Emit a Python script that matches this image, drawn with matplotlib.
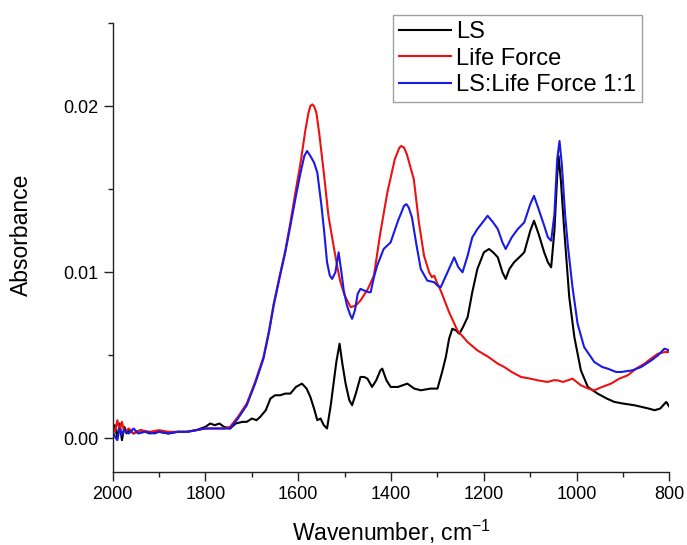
import matplotlib
matplotlib.use("Agg")
import matplotlib.pyplot as plt
from matplotlib.ticker import MultipleLocator, FormatStrFormatter

plt.rcParams['font.family'] = ['Liberation Sans', 'DejaVu Sans']
plt.rcParams['mathtext.fontset'] = 'custom'
plt.rcParams['mathtext.rm'] = 'Liberation Sans'
plt.rcParams['mathtext.it'] = 'Liberation Sans:italic'

# LS
ls_wn = [2000, 1995, 1990, 1985, 1980, 1975, 1970, 1965, 1955, 1940, 1920, 1900, 1880, 1860,
         1840, 1820, 1800, 1790, 1780, 1770, 1760, 1747, 1735, 1720, 1711, 1700, 1690, 1682,
         1670, 1660, 1650, 1639, 1628, 1617, 1605, 1592, 1582, 1574, 1566, 1559, 1552, 1545,
         1538, 1530, 1524, 1518, 1511, 1505, 1498, 1490, 1484, 1476, 1466, 1458, 1451, 1441,
         1432, 1423, 1419, 1410, 1401, 1385, 1365, 1350, 1336, 1315, 1300, 1290, 1282, 1275,
         1268, 1260, 1253, 1245, 1235, 1225, 1214, 1200, 1189, 1180, 1170, 1160, 1153, 1145,
         1135, 1120, 1113, 1100, 1092, 1082, 1070, 1062, 1055, 1048, 1042, 1039, 1034, 1027,
         1016, 1005, 991, 976, 955, 935, 919, 900, 876, 860, 845, 832, 820, 807, 800]
ls_abs = [0.0004, 0.0008, 0.0000, 0.0009, -0.0001, 0.0007, 0.0003, 0.0005, 0.0003, 0.0005,
          0.0003, 0.0004, 0.0003, 0.0004, 0.0004, 0.0005, 0.0007, 0.0009, 0.0008, 0.0009,
          0.0007, 0.0006, 0.0009, 0.0010, 0.0010, 0.0012, 0.0011, 0.0013, 0.0017, 0.0024,
          0.0026, 0.0026, 0.0027, 0.0027, 0.0031, 0.0033, 0.0030, 0.0025, 0.0018, 0.0011,
          0.0012, 0.0008, 0.0006, 0.0020, 0.0033, 0.0046, 0.0057, 0.0045, 0.0033, 0.0023,
          0.0020, 0.0027, 0.0037, 0.0037, 0.0036, 0.0031, 0.0035, 0.0041, 0.0042, 0.0035,
          0.0031, 0.0031, 0.0033, 0.0030, 0.0029, 0.0030, 0.0030, 0.0040, 0.0049, 0.0060,
          0.0066, 0.0065, 0.0063, 0.0067, 0.0073, 0.0088, 0.0102, 0.0112, 0.0114, 0.0112,
          0.0109, 0.0100, 0.0096, 0.0102, 0.0106, 0.0110, 0.0112, 0.0125, 0.0131, 0.0123,
          0.0112, 0.0106, 0.0103, 0.0125, 0.0158, 0.0170, 0.0155, 0.0126, 0.0085, 0.0061,
          0.0041, 0.0031, 0.0027, 0.0024, 0.0022, 0.0021, 0.0020, 0.0019, 0.0018, 0.0017,
          0.0018, 0.0022, 0.0019]

# Life Force
lf_wn = [2000, 1995, 1990, 1985, 1980, 1975, 1965, 1955, 1940, 1920, 1900, 1880, 1860, 1840,
         1820, 1800, 1780, 1760, 1747, 1730, 1711, 1693, 1675, 1663, 1653, 1640, 1628, 1617,
         1605, 1595, 1585, 1578, 1574, 1570, 1566, 1561, 1555, 1545, 1535, 1524, 1515, 1509,
         1500, 1487, 1476, 1466, 1450, 1437, 1423, 1408, 1392, 1382, 1378, 1372, 1366, 1351,
         1340, 1329, 1318, 1312, 1307, 1300, 1293, 1275, 1257, 1235, 1214, 1190, 1170, 1156,
         1140, 1120, 1100, 1084, 1063, 1050, 1041, 1030, 1019, 1009, 1000, 991, 975, 962, 945,
         926, 908, 890, 872, 854, 840, 825, 810, 800]
lf_abs = [0.0007, 0.0004, 0.0011, 0.0005, 0.0010, 0.0004, 0.0006, 0.0003, 0.0005, 0.0004,
          0.0005, 0.0004, 0.0004, 0.0004, 0.0005, 0.0006, 0.0006, 0.0006, 0.0007, 0.0013,
          0.0021, 0.0034, 0.0049, 0.0065, 0.0081, 0.0098, 0.0113, 0.0130, 0.0150, 0.0166,
          0.0185, 0.0196, 0.0200, 0.0201, 0.0200, 0.0196, 0.0184, 0.0160, 0.0134, 0.0116,
          0.0102, 0.0094, 0.0086, 0.0079, 0.0080, 0.0083, 0.0090, 0.0098, 0.0124, 0.0148,
          0.0168, 0.0175, 0.0176, 0.0175, 0.0171, 0.0156, 0.0130, 0.0110, 0.0100, 0.0097,
          0.0098, 0.0093, 0.0089, 0.0076, 0.0065, 0.0058, 0.0053, 0.0049, 0.0045, 0.0043,
          0.0040, 0.0037, 0.0036, 0.0035, 0.0034, 0.0035, 0.0035, 0.0034, 0.0035, 0.0036,
          0.0034, 0.0032, 0.0030, 0.0029, 0.0031, 0.0033, 0.0036, 0.0038, 0.0042, 0.0045,
          0.0048, 0.0051, 0.0052, 0.0052]

# LS:Life Force 1:1
mix_wn = [2000, 1995, 1990, 1985, 1980, 1975, 1965, 1955, 1945, 1930, 1910, 1900, 1880, 1860,
          1840, 1820, 1800, 1780, 1760, 1747, 1730, 1711, 1693, 1675, 1663, 1653, 1640, 1628,
          1617, 1605, 1595, 1587, 1581, 1574, 1566, 1559, 1550, 1544, 1538, 1532, 1527, 1520,
          1513, 1507, 1502, 1495, 1489, 1484, 1478, 1472, 1466, 1458, 1448, 1444, 1437, 1430,
          1416, 1401, 1385, 1372, 1367, 1362, 1355, 1345, 1336, 1322, 1307, 1300, 1293, 1280,
          1264, 1255, 1246, 1235, 1225, 1214, 1200, 1192, 1180, 1170, 1160, 1153, 1140, 1127,
          1113, 1100, 1092, 1082, 1070, 1062, 1055, 1048, 1042, 1037, 1032, 1025, 1019, 1009,
          998, 984, 962, 945, 933, 915, 904, 880, 861, 839, 825, 811, 800]
mix_abs = [0.0004, 0.0001, -0.0001, 0.0006, 0.0002, 0.0005, 0.0003, 0.0006, 0.0003, 0.0004,
           0.0003, 0.0004, 0.0003, 0.0004, 0.0004, 0.0005, 0.0006, 0.0006, 0.0006, 0.0006,
           0.0012, 0.0020, 0.0033, 0.0048, 0.0064, 0.0080, 0.0097, 0.0112, 0.0128, 0.0146,
           0.0160, 0.0170, 0.0173, 0.0170, 0.0166, 0.0160, 0.0140, 0.0124, 0.0106, 0.0098,
           0.0096, 0.0100, 0.0112, 0.0100, 0.0089, 0.0080, 0.0075, 0.0072, 0.0077, 0.0087,
           0.0090, 0.0089, 0.0088, 0.0088, 0.0097, 0.0104, 0.0114, 0.0118, 0.0131, 0.0140,
           0.0141, 0.0139, 0.0133, 0.0116, 0.0102, 0.0095, 0.0094, 0.0092, 0.0091, 0.0099,
           0.0109, 0.0103, 0.0100, 0.0110, 0.0121, 0.0126, 0.0131, 0.0134, 0.0130, 0.0126,
           0.0118, 0.0114, 0.0121, 0.0126, 0.0130, 0.0141, 0.0146, 0.0138, 0.0128, 0.0121,
           0.0119, 0.0135, 0.0168, 0.0179, 0.0165, 0.0135, 0.0116, 0.0091, 0.0069, 0.0055,
           0.0046, 0.0043, 0.0042, 0.0040, 0.0040, 0.0041, 0.0043, 0.0047, 0.0050, 0.0054,
           0.0053]

fig = plt.figure(figsize=(6.87, 5.45), dpi=100)
ax = fig.add_axes([0.164, 0.1345, 0.8105, 0.8233])

ax.plot(ls_wn, ls_abs, color='black', lw=1.5, label='LS')
ax.plot(lf_wn, lf_abs, color='#ee1111', lw=1.5, label='Life Force')
ax.plot(mix_wn, mix_abs, color='#1a1ae6', lw=1.5, label='LS:Life Force 1:1')

ax.set_xlim(2000, 800)
ax.set_ylim(-0.002, 0.025)

ax.xaxis.set_major_locator(MultipleLocator(200))
ax.xaxis.set_minor_locator(MultipleLocator(100))
ax.set_yticks([0.0, 0.01, 0.02])
ax.yaxis.set_minor_locator(MultipleLocator(0.005))
ax.yaxis.set_major_formatter(FormatStrFormatter('%.2f'))

for side in ['top', 'right']:
    ax.spines[side].set_visible(False)
for side in ['left', 'bottom']:
    ax.spines[side].set_linewidth(1.0)
    ax.spines[side].set_color('#222222')

ax.tick_params(which='major', length=6.5, width=1.0, labelsize=13, color='#222222')
ax.tick_params(which='minor', length=3.5, width=1.0, color='#222222')

ax.set_xlabel('Wavenumber, cm$^{-1}$', fontsize=16.5, labelpad=11)
ax.set_ylabel('Absorbance', fontsize=16.5)
ax.yaxis.set_label_coords(-0.143, 0.527)

leg = ax.legend(loc='upper right', bbox_to_anchor=(0.950, 1.018), borderaxespad=0,
                fontsize=17, frameon=True, fancybox=False, handlelength=2.2,
                handletextpad=0.2, labelspacing=0.2, borderpad=0.25)
leg.get_frame().set_edgecolor('#888888')
leg.get_frame().set_linewidth(1.0)

fig.savefig('out.png', dpi=100)
